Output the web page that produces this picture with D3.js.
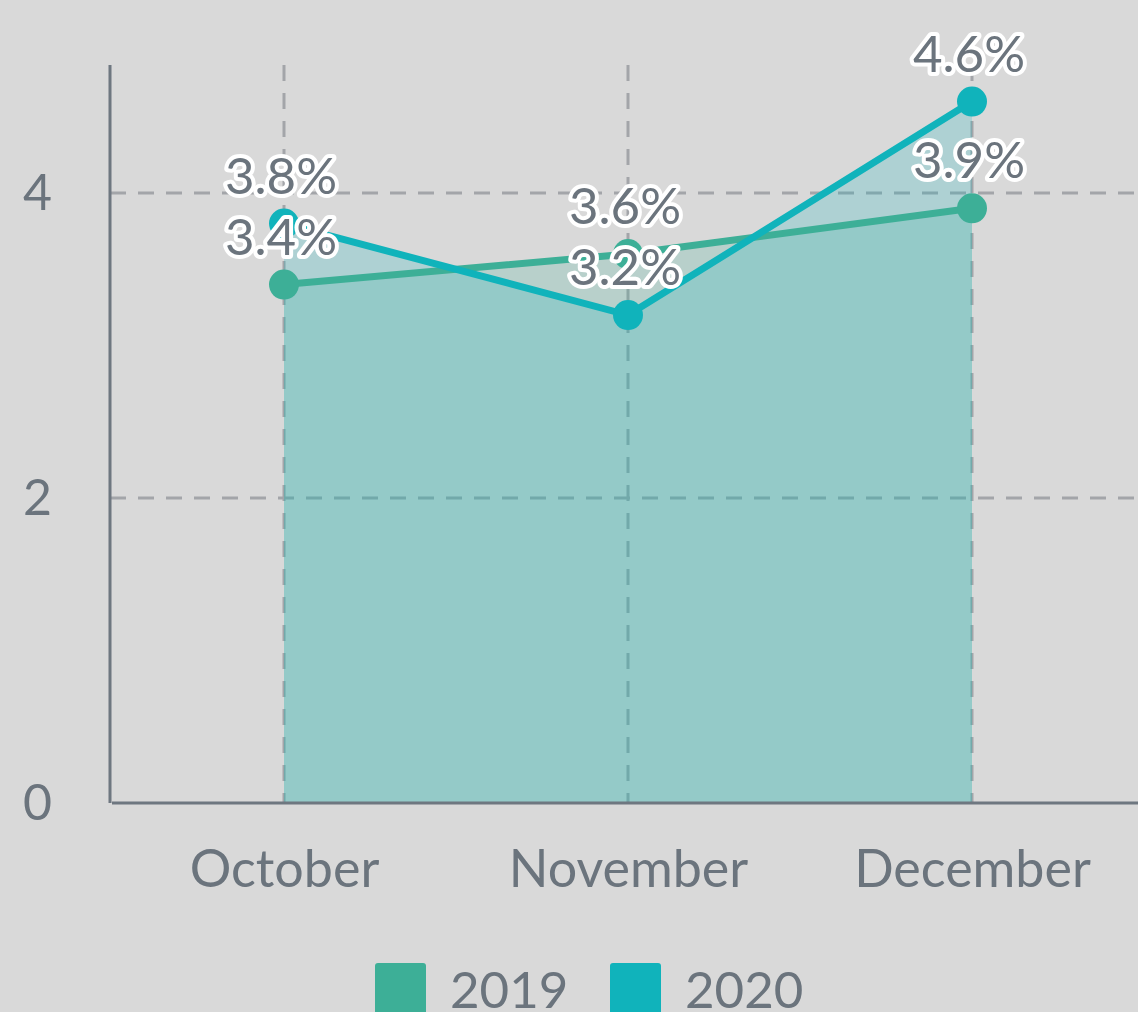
<!DOCTYPE html>
<html>
<head>
<meta charset="utf-8">
<script src="https://cdn.jsdelivr.net/npm/d3@7"></script>
<style>
    html, body { margin: 0; padding: 0; background: #d9d9d9; overflow: hidden; }
    svg { display: block; font-family: Lato, "Open Sans", sans-serif; }
</style>
</head>
<body>
<svg id="chart" width="1138" height="1012"></svg>
<script>
// --- Data ---
const months = ["October", "November", "December"];
const values2019 = [3.4, 3.6, 3.9];
const values2020 = [3.8, 3.2, 4.6];
const seriesNames = ["2019", "2020"];
const yTicks = [0, 2, 4];
const yMax = 4.84;

const colors = { "2019": "#3daf97", "2020": "#10b3bb" };
const textColor = "#6b747d";
const gridColor = "#a3a5a9";

const series = [
    { name: "2019", values: values2019 },
    { name: "2020", values: values2020 }
];

const svg = d3.select("#chart");
const margin = { top: 65, left: 110, bottom: 803 };

// --- Scales ---
const x = d3.scalePoint().domain(months).range([margin.left + 2, 1144]).padding(0.5);
const y = d3.scaleLinear().domain([0, yMax]).range([margin.bottom, margin.top]);

// --- Grid lines ---
const grid = svg.append("g");
grid.selectAll("line.h")
    .data(yTicks.filter(d => d > 0))
    .join("line")
    .attr("x1", margin.left).attr("x2", 1138)
    .attr("y1", d => y(d)).attr("y2", d => y(d))
    .attr("stroke", gridColor).attr("stroke-width", 3)
    .attr("stroke-dasharray", "16 12");
grid.selectAll("line.v")
    .data(months)
    .join("line")
    .attr("x1", d => x(d)).attr("x2", d => x(d))
    .attr("y1", margin.top).attr("y2", margin.bottom)
    .attr("stroke", gridColor).attr("stroke-width", 3)
    .attr("stroke-dasharray", "16 12");

// --- Areas ---
const area = d3.area()
    .x((d, i) => x(months[i]))
    .y0(y(0))
    .y1(d => y(d));
svg.selectAll("path.area")
    .data(series)
    .join("path")
    .attr("class", "area")
    .attr("d", d => area(d.values))
    .attr("fill", d => colors[d.name])
    .attr("fill-opacity", 0.21);

// --- Axes ---
const xAxisG = svg.append("g")
    .attr("transform", `translate(0,${margin.bottom})`)
    .call(d3.axisBottom(x).tickSize(0).tickPadding(47));
xAxisG.select(".domain").remove();
xAxisG.append("line")
    .attr("x1", margin.left + 2).attr("x2", 1138)
    .attr("stroke", "#6e7780").attr("stroke-width", 3);
xAxisG.selectAll("text")
    .attr("fill", textColor).attr("font-size", 52)
    .attr("font-family", "Lato, sans-serif");

const yAxisG = svg.append("g")
    .attr("transform", `translate(${margin.left},0)`)
    .call(d3.axisLeft(y).tickValues(yTicks).tickSize(0).tickPadding(58).tickFormat(d3.format("d")));
yAxisG.select(".domain").remove();
yAxisG.append("line")
    .attr("y1", margin.top).attr("y2", margin.bottom)
    .attr("stroke", "#6e7780").attr("stroke-width", 3);
yAxisG.selectAll("text")
    .attr("fill", textColor).attr("font-size", 50)
    .attr("font-family", "Lato, sans-serif");

// --- Lines and points ---
const line = d3.line()
    .x((d, i) => x(months[i]))
    .y(d => y(d));
series.forEach(s => {
    svg.append("path")
        .attr("d", line(s.values))
        .attr("fill", "none")
        .attr("stroke", colors[s.name])
        .attr("stroke-width", 7);
    svg.selectAll(null)
        .data(s.values)
        .join("circle")
        .attr("cx", (d, i) => x(months[i]))
        .attr("cy", d => y(d))
        .attr("r", 15)
        .attr("fill", colors[s.name]);
});

// --- Value labels ---
series.forEach(s => {
    svg.selectAll(null)
        .data(s.values)
        .join("text")
        .attr("x", (d, i) => x(months[i]) - 3)
        .attr("y", d => y(d) - 30)
        .attr("text-anchor", "middle")
        .attr("font-size", 51)
        .attr("fill", textColor)
        .attr("stroke", "#ffffff")
        .attr("stroke-width", 8)
        .attr("stroke-linejoin", "round")
        .attr("paint-order", "stroke")
        .text(d => d.toFixed(1) + "%");
});

// --- Legend ---
const legend = svg.append("g").attr("transform", "translate(375,963)");
const legendX = [0, 235];
seriesNames.forEach((name, i) => {
    const item = legend.append("g").attr("transform", `translate(${legendX[i]},0)`);
    item.append("rect")
        .attr("width", 51).attr("height", 51).attr("rx", 3)
        .attr("fill", colors[name]);
    item.append("text")
        .attr("x", 75).attr("y", 45)
        .attr("font-size", 51)
        .attr("fill", textColor)
        .text(name);
});
</script>
</body>
</html>
